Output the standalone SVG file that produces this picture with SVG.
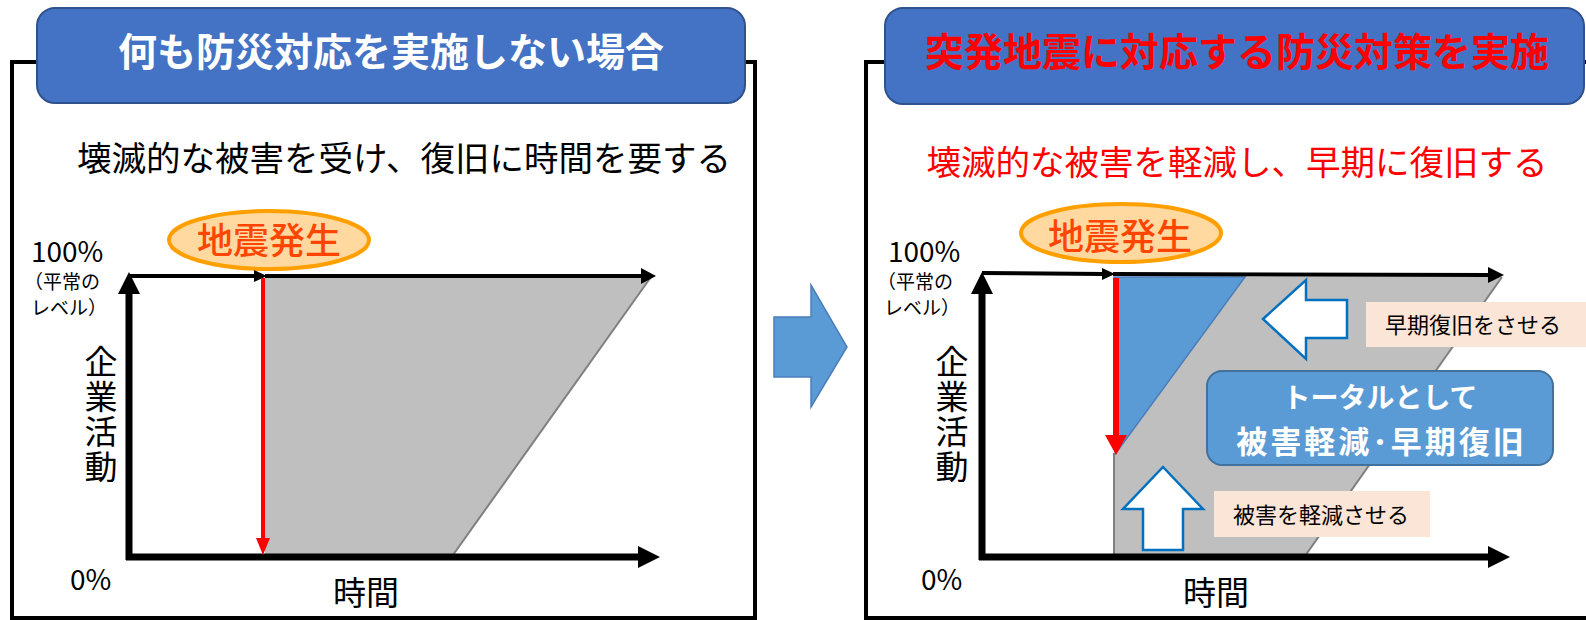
<svg xmlns="http://www.w3.org/2000/svg" width="1586" height="620" viewBox="0 0 1586 620">
<style>
text{font-family:"Noto Sans CJK JP","Noto Sans",sans-serif;}
.frame{fill:none;stroke:#000;stroke-width:4;}
.title{fill:#4472C4;stroke:#2F528F;stroke-width:2;}
.ttl{font-size:39px;font-weight:700;text-anchor:middle;}
.sub{font-size:34.5px;text-anchor:middle;}
.quake{fill:#FFD9A0;stroke:#FFA000;stroke-width:4;}
.qt{font-size:36px;font-weight:500;fill:#FF4500;text-anchor:middle;}
.pct{font-size:28px;fill:#000;}
.lvl{font-size:19px;fill:#000;}
.ax{font-size:33px;fill:#000;text-anchor:middle;}
.vax{font-size:33px;fill:#000;writing-mode:vertical-rl;letter-spacing:2px;}
.gray{fill:#BFBFBF;stroke:none;}
.gedge{fill:none;stroke:#7F7F7F;stroke-width:2;}
.axis{stroke:#000;fill:none;}
.head{fill:#000;}
.red{stroke:#FF0000;fill:none;}
.redh{fill:#FF0000;}
.blue{fill:#5B9BD5;stroke:#4A7EBB;stroke-width:1.5;}
.warrow{fill:#FFFFFF;stroke:#0070C0;stroke-width:2.5;stroke-linejoin:miter;}
.lbl{fill:#FBE5D6;}
.lt{font-size:22px;fill:#000;}
.tot{fill:#5B9BD5;stroke:#41719C;stroke-width:2;}
.tt{fill:#FFFFFF;font-weight:700;text-anchor:middle;}
</style>

<g id="left-panel">
  <rect class="frame" x="12" y="62" width="743" height="556"/>
  <polygon class="gray" points="265,277 651,277 453,555 265,555"/>
  <line class="gedge" x1="651" y1="277" x2="453" y2="555"/>
  <g id="left-title">
    <rect class="title" x="37" y="8" width="708" height="95" rx="18"/>
    <text class="ttl" x="391" y="66" fill="#FFFFFF">何も防災対応を実施しない場合</text>
  </g>
  <text class="sub" x="404" y="171" fill="#000000">壊滅的な被害を受け、復旧に時間を要する</text>
  <g id="left-quake">
    <ellipse class="quake" cx="269" cy="240" rx="100" ry="29"/>
    <text class="qt" x="269" y="254">地震発生</text>
  </g>
  <text class="pct" x="31" y="262">100%</text>
  <text class="lvl" x="24" y="289">（平常の</text>
  <text class="lvl" x="31" y="315">レベル）</text>
  <text class="vax" x="101" y="345">企業活動</text>
  <text class="pct" x="70" y="590">0%</text>
  <text class="ax" x="366" y="605">時間</text>
</g>

<g id="right-panel">
  <rect class="frame" x="866" y="62" width="800" height="556"/>
  <polygon class="gray" points="1114,277 1502,277 1305,556 1114,556"/>
  <polyline class="gedge" points="1502,277 1305,556"/>
  <line class="gedge" x1="1114" y1="453" x2="1114" y2="556"/>
  <polygon class="blue" points="1114,277 1245,277 1116,453"/>
  <g id="right-title">
    <rect class="title" x="885" y="8" width="699" height="96" rx="18"/>
    <text class="ttl" x="1237" y="66" fill="#FF0000">突発地震に対応する防災対策を実施</text>
  </g>
  <text class="sub" x="1237" y="175" fill="#FF0000">壊滅的な被害を軽減し、早期に復旧する</text>
  <g id="right-quake">
    <ellipse class="quake" cx="1121" cy="233" rx="100" ry="29"/>
    <text class="qt" x="1120" y="250">地震発生</text>
  </g>
  <text class="pct" x="888" y="262">100%</text>
  <text class="lvl" x="877" y="289">（平常の</text>
  <text class="lvl" x="884" y="315">レベル）</text>
  <text class="vax" x="952" y="345">企業活動</text>
  <text class="pct" x="921" y="590">0%</text>
  <text class="ax" x="1216" y="605">時間</text>

  <g id="early-recovery">
    <polygon class="warrow" points="1263,319 1306,280 1306,300 1347,300 1347,338 1306,338 1306,359"/>
    <rect class="lbl" x="1366" y="302" width="222" height="45"/>
    <text class="lt" x="1385" y="333">早期復旧をさせる</text>
  </g>
  <g id="reduce-damage">
    <polygon class="warrow" points="1163,467 1203,509 1183,509 1183,550 1143,550 1143,509 1123,509"/>
    <rect class="lbl" x="1214" y="491" width="216" height="46"/>
    <text class="lt" x="1233" y="523">被害を軽減させる</text>
  </g>
  <g id="total">
    <rect class="tot" x="1207" y="371" width="346" height="94" rx="15"/>
    <text class="tt" x="1380" y="408" font-size="28">トータルとして</text>
    <text class="tt" x="1381.5" y="453" font-size="31" letter-spacing="3">被害軽減･早期復旧</text>
  </g>
</g>

<g id="transition-arrow">
  <polygon class="blue" points="774,317 811,317 811,285 847,347 811,407 811,377 774,377"/>
</g>

<g id="connectors">
  <line class="axis" x1="129" y1="276" x2="256" y2="276" stroke-width="4"/>
  <polygon class="head" points="254,270 267,276 254,282"/>
  <line class="axis" x1="265" y1="276" x2="643" y2="276" stroke-width="4"/>
  <polygon class="head" points="641,268 656,276 641,284"/>
  <line class="axis" x1="129" y1="291" x2="129" y2="560" stroke-width="7"/>
  <polygon class="head" points="118,294 129,272 140,294"/>
  <line class="axis" x1="126" y1="557" x2="640" y2="557" stroke-width="7"/>
  <polygon class="head" points="638,546 660,557 638,568"/>
  <line class="red" x1="263" y1="278" x2="263" y2="540" stroke-width="4"/>
  <polygon class="redh" points="256,538 270,538 263,555"/>
  <line class="axis" x1="982" y1="273" x2="1104" y2="274" stroke-width="4"/>
  <polygon class="head" points="1102,268 1115,274 1102,280"/>
  <line class="axis" x1="1113" y1="274" x2="1490" y2="275" stroke-width="4"/>
  <polygon class="head" points="1488,267 1504,275 1488,283"/>
  <line class="axis" x1="982" y1="291" x2="982" y2="560" stroke-width="7"/>
  <polygon class="head" points="971,294 982,272 993,294"/>
  <line class="axis" x1="979" y1="557" x2="1490" y2="557" stroke-width="7"/>
  <polygon class="head" points="1488,546 1510,557 1488,568"/>
  <line class="red" x1="1116" y1="278" x2="1116" y2="437" stroke-width="6"/>
  <polygon class="redh" points="1105,435 1127,435 1116,455"/>
</g>
</svg>
